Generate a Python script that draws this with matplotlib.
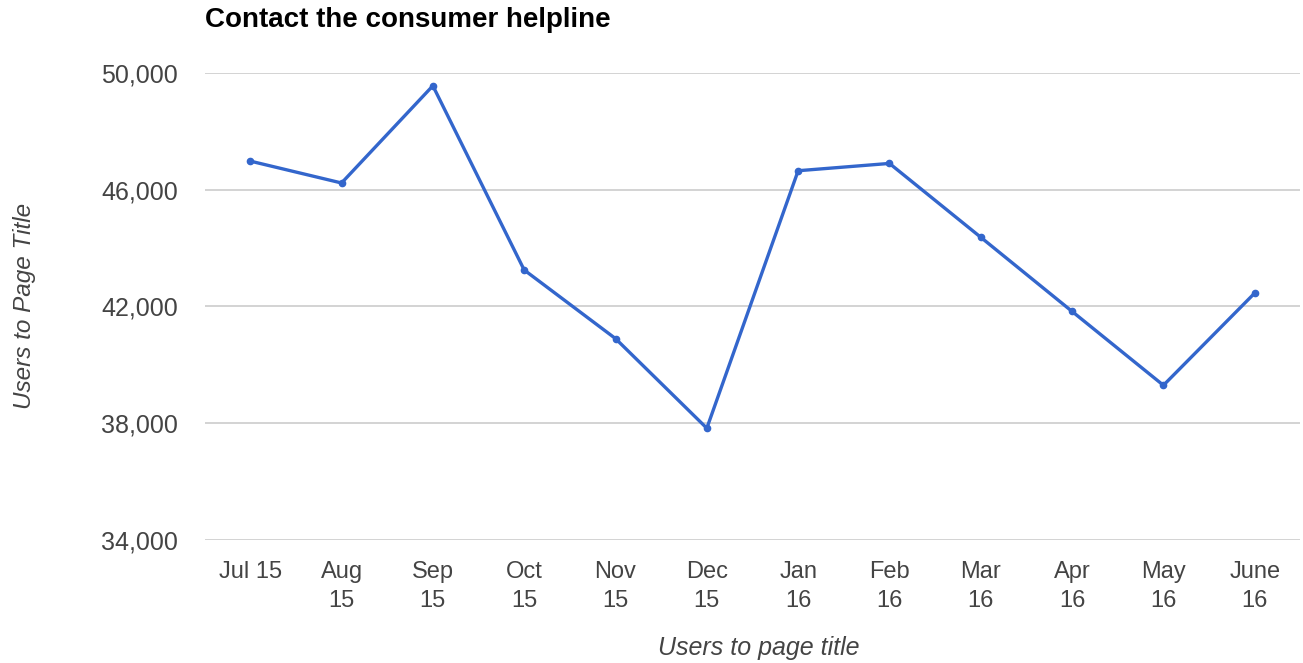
import matplotlib
matplotlib.use("Agg")
import matplotlib.pyplot as plt
from matplotlib.ticker import FuncFormatter

plt.rcParams['font.family'] = ['Liberation Sans', 'DejaVu Sans']

months = ["Jul 15", "Aug\n15", "Sep\n15", "Oct\n15", "Nov\n15", "Dec\n15",
          "Jan\n16", "Feb\n16", "Mar\n16", "Apr\n16", "May\n16", "June\n16"]
users = [46980, 46230, 49560, 43250, 40900, 37830,
         46650, 46900, 44370, 41830, 39300, 42460]
yticks = [34000, 38000, 42000, 46000, 50000]

fig = plt.figure(figsize=(13.03, 6.63), dpi=100)
ax = fig.add_axes([0.157, 0.1855, 0.841, 0.7045])

x = list(range(len(months)))
ax.plot(x, users, color='#3366cc', linewidth=2.4, marker='o', markersize=4.5,
        solid_joinstyle='round')

ax.set_xlim(-0.5, len(months) - 0.5)
ax.set_ylim(34000, 50000)
ax.set_yticks(yticks)
ax.yaxis.set_major_formatter(FuncFormatter(lambda v, p: f"{int(v):,}"))
ax.set_xticks(x)
ax.set_xticklabels(months, linespacing=1.45)

ax.grid(axis='y', color='#cccccc', linewidth=1.2)
ax.set_axisbelow(True)
for s in ax.spines.values():
    s.set_visible(False)
ax.tick_params(axis='y', length=0, labelsize=18, labelcolor='#444444', pad=19)
ax.tick_params(axis='x', length=0, labelsize=17, labelcolor='#444444', pad=15)

fig.text(0.019, 0.538, "Users to Page Title", fontsize=17.5, style='italic',
         color='#444444', rotation=90, ha='center', va='center')
fig.text(0.5825, 0.0226, "Users to page title", fontsize=18, style='italic',
         color='#444444', ha='center', va='center')

fig.text(0.157, 0.970, "Contact the consumer helpline", fontsize=20, fontweight='bold',
         color='#000000', ha='left', va='center')

fig.savefig("out.png", dpi=100, facecolor='white')
